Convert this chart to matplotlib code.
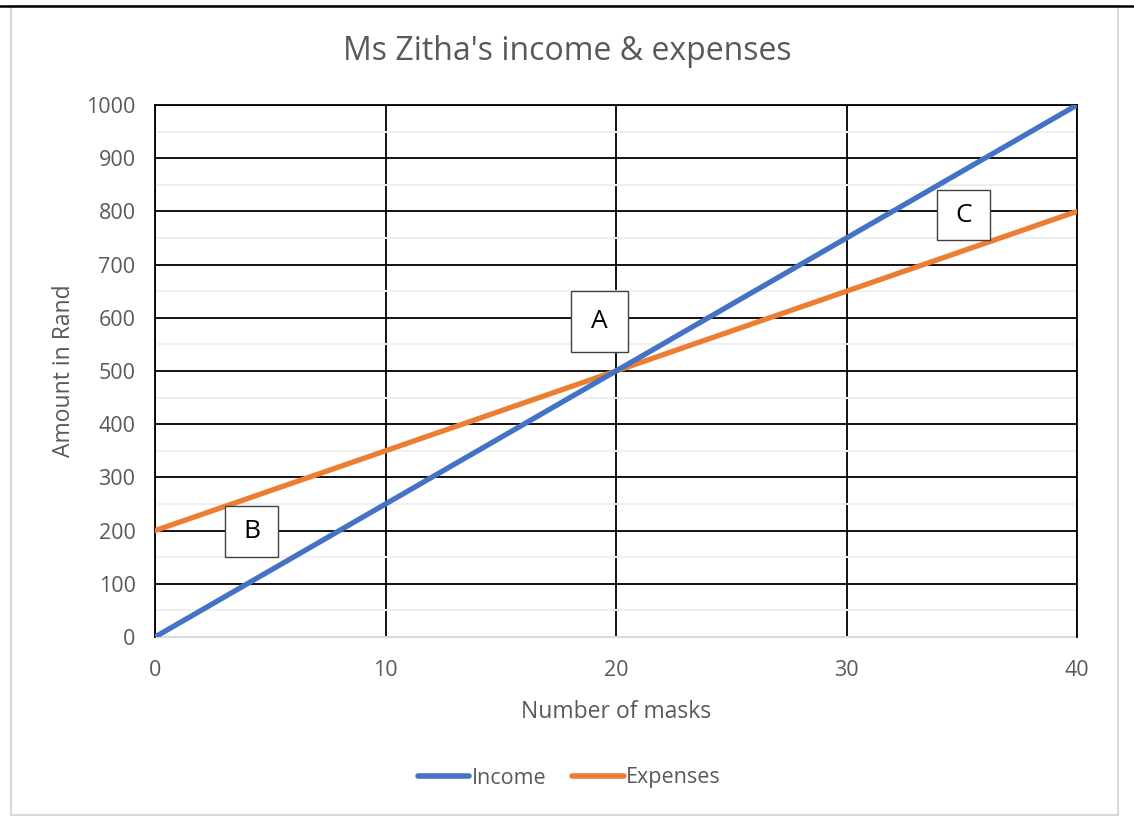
import matplotlib
matplotlib.use("Agg")
import matplotlib.pyplot as plt
from matplotlib.patches import Rectangle
from matplotlib.lines import Line2D

plt.rcParams['font.family'] = ['Open Sans', 'DejaVu Sans']

masks = [0, 10, 20, 30, 40]
income = [0, 250, 500, 750, 1000]
expenses = [200, 350, 500, 650, 800]
x_ticks = [0, 10, 20, 30, 40]
y_ticks = [0, 100, 200, 300, 400, 500, 600, 700, 800, 900, 1000]
labels = ["A", "B", "C"]
label_x = [19.29, 4.19, 35.07]
label_y = [593, 198, 793]

W, H = 1134, 816
fig = plt.figure(figsize=(W / 100, H / 100), dpi=100)

# outer chart frame
fig.add_artist(Rectangle((10.5 / W, 1 - 814.5 / H), (1118 - 10.5) / W, (814.5 - 6) / H,
                         transform=fig.transFigure, fill=False, ec='#D9D9D9', lw=1.5))
fig.add_artist(Line2D([0, 1], [1 - 5.5 / H, 1 - 5.5 / H], transform=fig.transFigure,
                      color='black', lw=1.8))

left, right, top, bottom = 155, 1077, 105, 637
ax = fig.add_axes([left / W, 1 - bottom / H, (right - left) / W, (bottom - top) / H])

ax.set_xlim(0, 40)
ax.set_ylim(0, 1000)
ax.set_xticks(x_ticks)
ax.set_yticks(y_ticks)
ax.set_yticks(range(50, 1000, 100), minor=True)

ax.grid(which='minor', axis='y', color='#EFEFEF', lw=1.5, zorder=0)
ax.grid(which='major', axis='y', color='black', lw=1.3, zorder=1)
ax.grid(which='major', axis='x', color='black', lw=1.3, zorder=1)

for s in ['left', 'top', 'right']:
    ax.spines[s].set_color('black')
    ax.spines[s].set_linewidth(1.3)
ax.spines['bottom'].set_color('#D9D9D9')
ax.spines['bottom'].set_linewidth(1.5)
ax.spines['bottom'].set_zorder(2)

ax.tick_params(which='both', length=0, labelsize=15.5, labelcolor='#595959')
ax.tick_params(axis='x', pad=16.5)
ax.tick_params(axis='y', pad=14)

ax.plot(masks, income, color='#4472C4', lw=3.8, solid_capstyle='round', zorder=4, label='Income')
ax.plot(masks, expenses, color='#ED7D31', lw=3.8, solid_capstyle='round', zorder=3, label='Expenses')

# label boxes (size in data units around each label centre)
box_w = [2.47, 2.30, 2.29]
box_h = [115, 96, 94]
for t, lx, ly, bw, bh in zip(labels, label_x, label_y, box_w, box_h):
    ax.add_patch(Rectangle((lx - bw / 2, ly - bh / 2), bw, bh, fc='white', ec='#404040',
                           lw=1.0, zorder=5))
    ax.text(lx, ly, t, fontsize=19, ha='center', va='center', color='black', zorder=6)

fig.text(0.5, 1 - 52 / H, "Ms Zitha's income & expenses",
         ha='center', va='center', fontsize=23, color='#595959')
ax.set_xlabel('Number of masks', fontsize=16.5, color='#595959', labelpad=14)
ax.set_ylabel('Amount in Rand', fontsize=16.5, color='#595959', labelpad=7)

leg = fig.legend(loc='center', bbox_to_anchor=(569 / W, 1 - 778 / H), ncol=2, frameon=False,
                 fontsize=15.5, labelcolor='#595959', handlelength=2.4, handletextpad=0.1,
                 columnspacing=1.2)
for h in leg.legend_handles:
    h.set_linewidth(4)

fig.savefig('out.png', dpi=100)
